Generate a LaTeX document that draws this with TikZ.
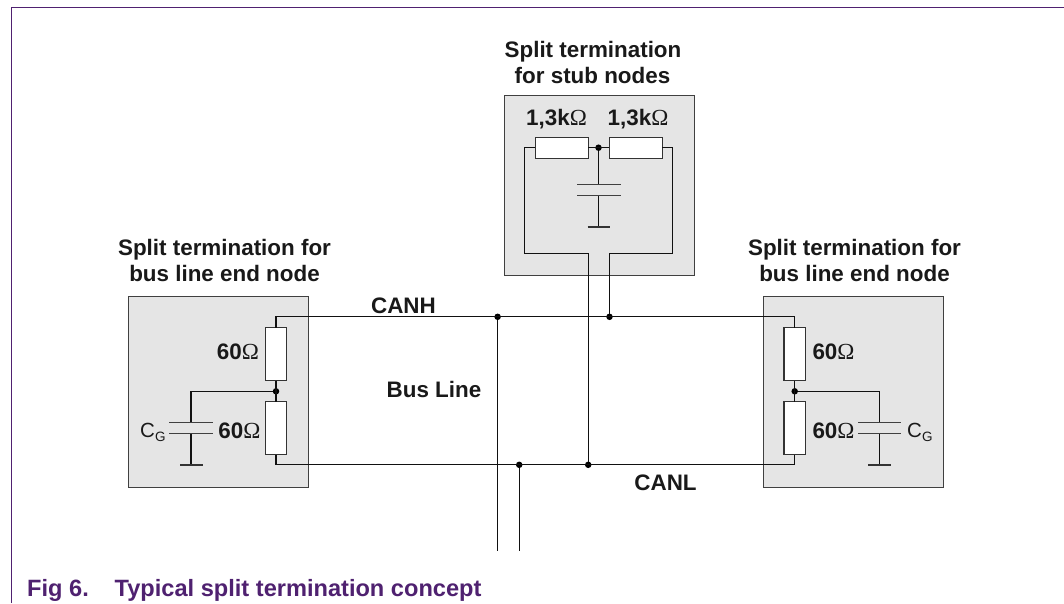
\documentclass[tikz,border=0pt]{standalone}
\usepackage{fontspec}
\setmainfont{Liberation Sans}
\newfontfamily\omegafont{Liberation Serif}
\definecolor{framepurple}{HTML}{4F2170}
\definecolor{boxgrey}{HTML}{E5E5E5}
\definecolor{wirecol}{HTML}{111111}
\newcommand{\ohm}{{\omegafont\mdseries\fontsize{23}{23}\selectfont Ω}}
\tikzset{
  frameline/.style={draw=framepurple,line width=1.5pt},
  panel/.style={draw=black!75,fill=boxgrey,line width=1.4pt},
  wire/.style={draw=wirecol,line width=1.25pt},
  plate/.style={draw=black!75,line width=1.5pt},
  groundbar/.style={draw=black!80,line width=1.8pt},
  hres/.style={draw=black!80,fill=white,line width=1.25pt,minimum width=53pt,minimum height=21pt,inner sep=0pt,outer sep=0pt},
  vres/.style={draw=black!80,fill=white,line width=1.25pt,minimum width=21.5pt,minimum height=53pt,inner sep=0pt,outer sep=0pt},
  junction/.style={circle,fill=black,inner sep=0pt,outer sep=0pt,minimum size=6.5pt},
  lbl/.style={font=\bfseries\fontsize{22.4}{22.4}\selectfont,anchor=base,inner sep=0pt,text=black!90},
  plainlbl/.style={font=\fontsize{20.5}{20.5}\selectfont,anchor=base west,inner sep=0pt,text=black!90},
  caption/.style={font=\bfseries\fontsize{23.6}{23.6}\selectfont,anchor=base west,inner sep=0pt,text=framepurple}
}
\begin{document}
\begin{tikzpicture}[x=1pt,y=-1pt]
\useasboundingbox (0,0) rectangle (1064,603);
\fill[white] (0,0) rectangle (1064,603);
% frame
\coordinate (frameTL) at (11.5,7.5);
\coordinate (frameTR) at (1064,7.5);
\coordinate (frameBL) at (11.5,603);
\draw[frameline] (frameBL) -- (frameTL) -- (frameTR);
% panels
\node[panel,anchor=north west,minimum width=190.5pt,minimum height=180pt,inner sep=0pt] (stubbox) at (503.5,95) {};
\node[panel,anchor=north west,minimum width=180pt,minimum height=191pt,inner sep=0pt] (leftbox) at (127.5,295.5) {};
\node[panel,anchor=north west,minimum width=180pt,minimum height=191pt,inner sep=0pt] (rightbox) at (762.5,295.5) {};
% stub node
\node[hres] (r1) at (561.7,147.7) {};
\node[hres] (r2) at (635.8,147.7) {};
\node[junction] (jstub) at (598.5,147.7) {};
\coordinate (capS1a) at (577,184.7); \coordinate (capS1b) at (620.5,184.7);
\coordinate (capS2a) at (577,195.3); \coordinate (capS2b) at (620.5,195.3);
\coordinate (capS1) at (598.5,184.7); \coordinate (capS2) at (598.5,195.3);
\coordinate (gndS) at (598.5,227.3); \coordinate (gndSa) at (587.5,227.3); \coordinate (gndSb) at (610.3,227.3);
\coordinate (s1) at (524.5,147.7); \coordinate (s2) at (524.5,253.5); \coordinate (s3) at (588.2,253.5);
\coordinate (t1) at (672.5,147.7); \coordinate (t2) at (672.5,253.5); \coordinate (t3) at (609.5,253.5);
% bus junctions
\node[junction] (jH1) at (497.6,316.8) {};
\node[junction] (jH2) at (609.5,316.8) {};
\node[junction] (jL1) at (519.2,464.8) {};
\node[junction] (jL2) at (588.2,464.8) {};
\coordinate (tail1) at (497.6,550.7);
\coordinate (tail2) at (519.2,550.7);
% left node
\node[vres] (r3) at (276,354.2) {};
\node[vres] (r4) at (276,428.2) {};
\node[junction] (jleft) at (276,391.3) {};
\coordinate (lH) at (276,316.8); \coordinate (lL) at (276,464.8);
\coordinate (capL0) at (191,391.3);
\coordinate (capL1) at (191,422.7); \coordinate (capL2) at (191,433.7);
\coordinate (capL1a) at (169.3,422.7); \coordinate (capL1b) at (212.7,422.7);
\coordinate (capL2a) at (169.3,433.7); \coordinate (capL2b) at (212.7,433.7);
\coordinate (gndL) at (191,465); \coordinate (gndLa) at (180,465); \coordinate (gndLb) at (202.7,465);
% right node
\node[vres] (r5) at (794.7,354.2) {};
\node[vres] (r6) at (794.7,428.2) {};
\node[junction] (jright) at (794.7,391.3) {};
\coordinate (rH) at (794.7,316.8); \coordinate (rL) at (794.7,464.8);
\coordinate (capR0) at (879.3,391.3);
\coordinate (capR1) at (879.3,422.7); \coordinate (capR2) at (879.3,433.7);
\coordinate (capR1a) at (858,422.7); \coordinate (capR1b) at (900.7,422.7);
\coordinate (capR2a) at (858,433.7); \coordinate (capR2b) at (900.7,433.7);
\coordinate (gndR) at (879.3,465); \coordinate (gndRa) at (868,465); \coordinate (gndRb) at (890.7,465);
% wires
\draw[wire] (r1.west) -- (s1) -- (s2) -- (s3) -- (jL2);
\draw[wire] (r2.east) -- (t1) -- (t2) -- (t3) -- (jH2);
\draw[wire] (r1.east) -- (r2.west);
\draw[wire] (jstub) -- (capS1);
\draw[wire] (capS2) -- (gndS);
\draw[wire] (r3.north) -- (lH) -- (rH) -- (r5.north);
\draw[wire] (r4.south) -- (lL) -- (rL) -- (r6.south);
\draw[wire] (r3.south) -- (r4.north);
\draw[wire] (r5.south) -- (r6.north);
\draw[wire] (jleft) -- (capL0) -- (capL1);
\draw[wire] (capL2) -- (gndL);
\draw[wire] (jright) -- (capR0) -- (capR1);
\draw[wire] (capR2) -- (gndR);
\draw[wire] (jH1) -- (tail1);
\draw[wire] (jL1) -- (tail2);
% plates
\draw[plate] (capS1a) -- (capS1b); \draw[plate] (capS2a) -- (capS2b);
\draw[plate] (capL1a) -- (capL1b); \draw[plate] (capL2a) -- (capL2b);
\draw[plate] (capR1a) -- (capR1b); \draw[plate] (capR2a) -- (capR2b);
\draw[groundbar] (gndSa) -- (gndSb);
\draw[groundbar] (gndLa) -- (gndLb);
\draw[groundbar] (gndRa) -- (gndRb);
% labels
\node[lbl] (t1a) at (593,57) {Split termination};
\node[lbl] (t1b) at (592.5,83) {for stub nodes};
\node[lbl] (t2a) at (224.5,255) {Split termination for};
\node[lbl] (t2b) at (224.5,281) {bus line end node};
\node[lbl] (t3a) at (854.5,255) {Split termination for};
\node[lbl] (t3b) at (854.5,281) {bus line end node};
\node[lbl] (canh) at (403.5,313) {CANH};
\node[lbl] (busl) at (434,397) {Bus Line};
\node[lbl] (canl) at (665.5,490) {CANL};
\node[lbl] (v1) at (556.5,125) {1,3k\ohm};
\node[lbl] (v2) at (638,125) {1,3k\ohm};
\node[lbl] (v3) at (238,359) {60\ohm};
\node[lbl] (v4) at (239.5,438) {60\ohm};
\node[lbl] (v5) at (833.5,359) {60\ohm};
\node[lbl] (v6) at (833.5,438) {60\ohm};
\node[plainlbl] (cg1) at (140,437) {C\raisebox{-4pt}{\fontsize{13.5}{13.5}\selectfont G}};
\node[plainlbl] (cg2) at (907,437) {C\raisebox{-4pt}{\fontsize{13.5}{13.5}\selectfont G}};
\node[caption] (figno) at (27,596) {Fig 6.};
\node[caption] (figtxt) at (114.5,596) {Typical split termination concept};
\end{tikzpicture}
\end{document}
